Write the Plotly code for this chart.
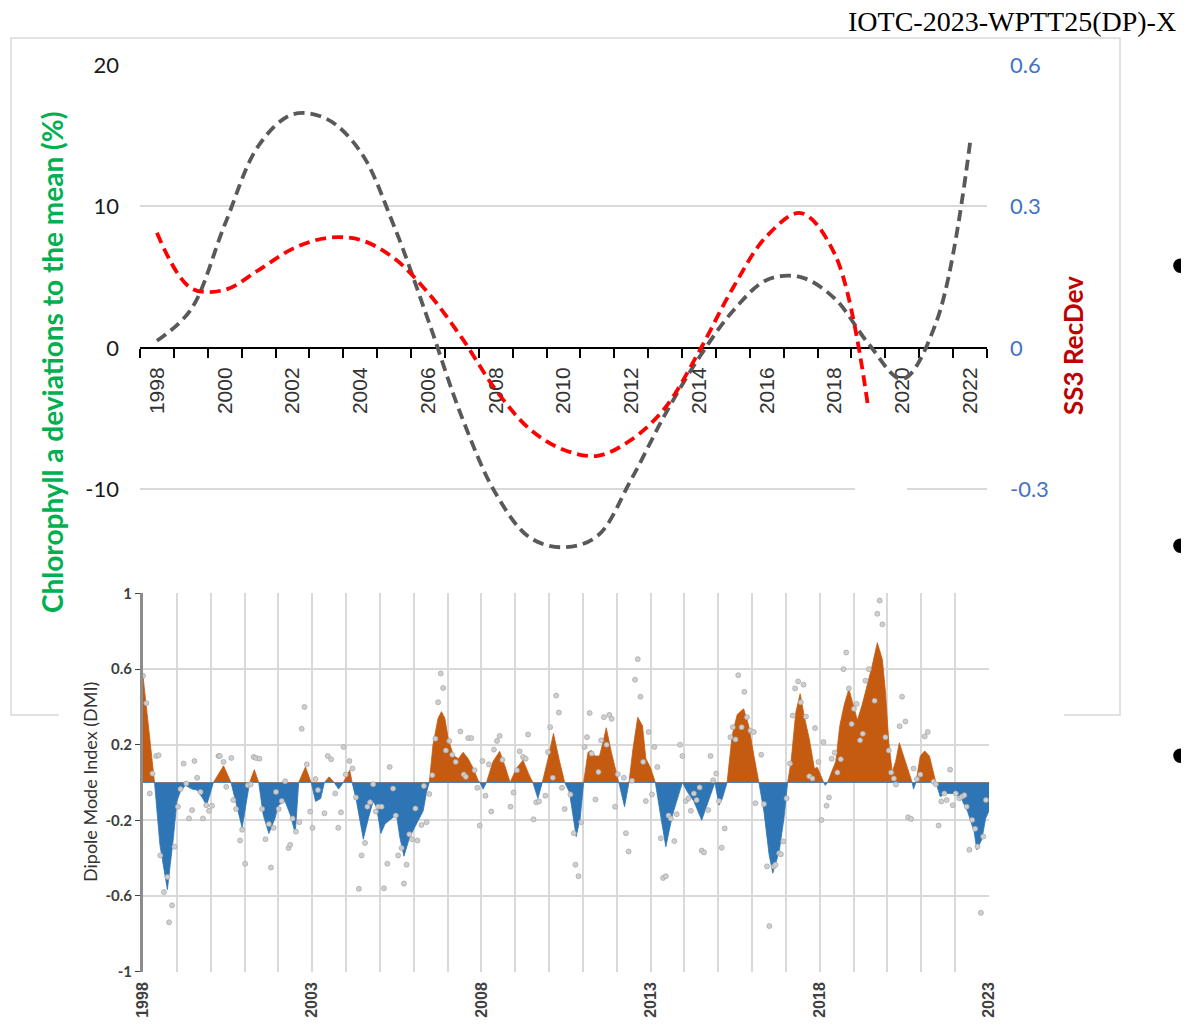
import plotly.graph_objects as go

# ---------------- Top chart data ----------------
chl_years = list(range(1998, 2023))
chl_dev = [0.5, 2.7, 8.7, 14.3, 16.5, 16.2, 13.9, 8.6, 2.0, -4.9, -10.3, -13.4, -14.1,
           -13.3, -9.3, -4.7, -0.7, 2.6, 4.8, 5.0, 3.5, 0.3, -2.2, 1.8, 14.5]
rec_years = list(range(1998, 2020))
rec_dev = [0.244, 0.127, 0.123, 0.165, 0.21, 0.233, 0.229, 0.19, 0.117, 0.021, -0.089,
           -0.172, -0.216, -0.229, -0.195, -0.127, -0.008, 0.127, 0.237, 0.286, 0.2, -0.13]
top_tick_years = list(range(1998, 2023, 2))
left_ticks = [-10, 0, 10, 20]
right_ticks = [-0.3, 0, 0.3, 0.6]
right_ticktext = ["-0.3", "0", "0.3", "0.6"]

# ---------------- DMI data ----------------
dmi_t = [1998.00, 1998.10, 1998.20, 1998.34, 1998.50, 1998.72, 1998.90, 1999.00, 1999.10, 1999.25,
         1999.45, 1999.60, 1999.75, 1999.88, 2000.00, 2000.08, 2000.38, 2000.60, 2000.93, 2001.15,
         2001.29, 2001.42, 2001.55, 2001.72, 2001.90, 2002.00, 2002.20, 2002.35, 2002.50, 2002.60,
         2002.80, 2002.97, 2003.10, 2003.25, 2003.36, 2003.50, 2003.65, 2003.78, 2003.92, 2004.05,
         2004.11, 2004.18, 2004.31, 2004.51, 2004.66, 2004.80, 2004.90, 2005.03, 2005.15, 2005.34,
         2005.49, 2005.59, 2005.71, 2005.88, 2006.08, 2006.28, 2006.38, 2006.46, 2006.57, 2006.72,
         2006.82, 2006.92, 2007.02, 2007.17, 2007.32, 2007.46, 2007.61, 2007.76, 2007.90, 2007.96,
         2008.05, 2008.15, 2008.34, 2008.54, 2008.69, 2008.85, 2009.03, 2009.23, 2009.41, 2009.52,
         2009.67, 2009.80, 2009.97, 2010.13, 2010.30, 2010.46, 2010.60, 2010.80, 2010.92, 2011.02,
         2011.15, 2011.25, 2011.35, 2011.49, 2011.59, 2011.69, 2011.84, 2011.98, 2012.06, 2012.23,
         2012.36, 2012.48, 2012.62, 2012.76, 2012.86, 2013.00, 2013.14, 2013.30, 2013.45, 2013.65,
         2013.94, 2014.09, 2014.28, 2014.51, 2014.73, 2014.90, 2015.02, 2015.12, 2015.26, 2015.41,
         2015.56, 2015.75, 2015.90, 2016.05, 2016.20, 2016.35, 2016.50, 2016.61, 2016.80, 2016.94,
         2017.05, 2017.15, 2017.29, 2017.42, 2017.54, 2017.69, 2017.84, 2017.93, 2018.08, 2018.16,
         2018.23, 2018.33, 2018.47, 2018.59, 2018.72, 2018.86, 2018.98, 2019.11, 2019.25, 2019.40,
         2019.55, 2019.70, 2019.85, 2019.94, 2020.04, 2020.14, 2020.24, 2020.35, 2020.48, 2020.63,
         2020.73, 2020.77, 2020.84, 2020.97, 2021.10, 2021.24, 2021.37, 2021.43, 2021.56, 2021.71,
         2021.98, 2022.18, 2022.37, 2022.56, 2022.64, 2022.79, 2022.90, 2023.00]
dmi_smooth = [0.565, 0.40, 0.22, 0.0, -0.33, -0.567, -0.29, -0.10, -0.05, -0.015,
              -0.035, -0.04, -0.08, -0.12, -0.05, 0.0, 0.088, 0.0, -0.24, 0.0,
              0.068, 0.0, -0.17, -0.27, -0.19, -0.12, -0.10, -0.17, -0.27, 0.0,
              0.082, 0.0, -0.10, -0.085, 0.0, 0.03, 0.0, -0.035, 0.0, 0.047,
              0.065, 0.0, -0.10, -0.30, -0.19, -0.10, -0.13, -0.27, -0.22, -0.19,
              -0.17, -0.29, -0.39, -0.29, -0.22, -0.15, -0.05, 0.0, 0.20, 0.34,
              0.375, 0.34, 0.23, 0.144, 0.126, 0.16, 0.126, 0.074, 0.012, 0.0,
              -0.035, 0.0, 0.11, 0.165, 0.09, 0.0, 0.074, 0.118, 0.04, 0.0,
              -0.085, 0.0, 0.126, 0.26, 0.12, 0.0, -0.05, -0.286, -0.19, 0.0,
              0.16, 0.17, 0.14, 0.14, 0.21, 0.29, 0.16, 0.056, 0.0, -0.128,
              0.0, 0.18, 0.345, 0.30, 0.126, 0.077, 0.0, -0.18, -0.34, -0.17,
              0.0, -0.05, -0.10, -0.20, -0.09, 0.0, -0.12, -0.085, 0.0, 0.25,
              0.36, 0.39, 0.30, 0.145, 0.0, -0.155, -0.38, -0.48, -0.365, -0.19,
              0.0, 0.11, 0.37, 0.47, 0.35, 0.23, 0.074, 0.08, 0.012, -0.015,
              0.0, 0.047, 0.11, 0.30, 0.41, 0.495, 0.41, 0.33, 0.41, 0.51,
              0.62, 0.74, 0.65, 0.48, 0.21, 0.056, 0.11, 0.21, 0.14, 0.056,
              0.0, -0.035, 0.0, 0.14, 0.167, 0.14, 0.04, 0.0, -0.075, -0.058,
              -0.058, -0.085, -0.155, -0.26, -0.356, -0.30, -0.19, -0.15]

dot_t = [1998.00, 1998.10, 1998.28, 1998.39, 1998.46, 1998.20, 1998.51, 1998.62, 1998.72, 1998.86,
         1998.77, 1998.93, 1999.03, 1999.11, 1999.20, 1999.28, 1999.36, 1999.45, 1999.52, 1999.60,
         1999.70, 1999.77, 1999.87, 1999.95, 2000.04, 2000.23, 2000.27, 2000.38, 2000.46, 2000.61,
         2000.67, 2000.75, 2000.87, 2000.93, 2001.02, 2001.10, 2001.18, 2001.27, 2001.34, 2001.44,
         2001.52, 2001.62, 2001.72, 2001.78, 2001.86, 2001.93, 2002.01, 2002.10, 2002.20, 2002.30,
         2002.35, 2002.42, 2002.52, 2002.62, 2002.69, 2002.77, 2002.84, 2002.94, 2003.01, 2003.10,
         2003.17, 2003.36, 2003.46, 2003.56, 2003.68, 2003.77, 2003.85, 2003.93, 2003.99, 2004.10,
         2004.19, 2004.29, 2004.46, 2004.38, 2004.56, 2004.63, 2004.71, 2004.80, 2004.88, 2004.95,
         2005.05, 2005.12, 2005.22, 2005.29, 2005.39, 2005.47, 2005.54, 2005.64, 2005.71, 2005.79,
         2005.87, 2005.95, 2006.05, 2006.11, 2006.23, 2006.30, 2006.38, 2006.46, 2006.55, 2006.64,
         2006.72, 2006.80, 2006.87, 2006.95, 2007.05, 2007.14, 2007.24, 2007.38, 2007.48, 2007.54,
         2007.61, 2007.70, 2007.80, 2007.88, 2007.95, 2008.03, 2008.12, 2008.22, 2008.29, 2008.37,
         2008.46, 2008.54, 2008.62, 2008.86, 2008.95, 2009.05, 2009.13, 2009.23, 2009.31, 2009.38,
         2009.54, 2009.62, 2009.70, 2009.89, 2009.97, 2010.03, 2010.11, 2010.21, 2010.29, 2010.38,
         2010.46, 2010.63, 2010.73, 2010.78, 2010.87, 2010.95, 2011.05, 2011.12, 2011.20, 2011.26,
         2011.37, 2011.46, 2011.54, 2011.62, 2011.70, 2011.78, 2011.85, 2011.95, 2012.03, 2012.21,
         2012.27, 2012.35, 2012.45, 2012.54, 2012.62, 2012.70, 2012.78, 2012.86, 2012.94, 2013.04,
         2013.11, 2013.20, 2013.30, 2013.37, 2013.45, 2013.53, 2013.60, 2013.70, 2013.77, 2013.87,
         2013.94, 2014.04, 2014.12, 2014.19, 2014.28, 2014.36, 2014.45, 2014.51, 2014.58, 2014.70,
         2014.77, 2014.85, 2014.94, 2015.02, 2015.10, 2015.19, 2015.36, 2015.43, 2015.51, 2015.59,
         2015.69, 2015.77, 2015.85, 2015.95, 2016.05, 2016.10, 2016.27, 2016.35, 2016.44, 2016.51,
         2016.64, 2016.69, 2016.80, 2016.85, 2016.92, 2017.02, 2017.12, 2017.20, 2017.27, 2017.36,
         2017.44, 2017.52, 2017.59, 2017.69, 2017.78, 2017.86, 2017.96, 2018.05, 2018.11, 2018.20,
         2018.27, 2018.35, 2018.44, 2018.52, 2018.62, 2018.70, 2018.78, 2018.86, 2018.94, 2019.01,
         2019.09, 2019.19, 2019.27, 2019.35, 2019.45, 2019.62, 2019.70, 2019.77, 2019.85, 2019.94,
         2020.04, 2020.11, 2020.19, 2020.25, 2020.36, 2020.43, 2020.53, 2020.61, 2020.70, 2020.77,
         2020.87, 2020.97, 2021.10, 2021.19, 2021.36, 2021.43, 2021.51, 2021.59, 2021.68, 2021.75,
         2021.85, 2021.93, 2022.02, 2022.12, 2022.20, 2022.27, 2022.34, 2022.42, 2022.50, 2022.59,
         2022.66, 2022.76, 2022.83, 2022.91]
dot_v = [0.565, 0.42, 0.047, 0.14, 0.144, -0.058, -0.386, -0.58, -0.50, -0.65,
         -0.74, -0.34, -0.128, -0.035, 0.10, -0.005, -0.19, -0.146, 0.114, 0.025,
         -0.05, -0.19, -0.12, -0.15, -0.123, 0.14, 0.14, 0.109, -0.023, 0.13,
         -0.093, -0.14, -0.307, -0.25, -0.43, -0.014, -0.01, 0.135, 0.13, 0.126,
         -0.14, -0.30, -0.22, -0.45, -0.24, -0.05, -0.14, -0.098, 0.007, -0.347,
         -0.33, -0.19, -0.26, -0.21, 0.284, 0.40, 0.096, -0.154, -0.24, 0.018,
         -0.04, -0.163, 0.14, 0.123, -0.058, -0.24, -0.158, 0.188, 0.042, 0.114,
         0.074, -0.079, -0.386, -0.563, -0.32, -0.128, -0.105, -0.009, -0.154, -0.128,
         -0.128, -0.56, -0.43, 0.082, -0.032, -0.175, -0.386, -0.347, -0.535, -0.435,
         -0.274, -0.30, -0.137, -0.307, -0.225, -0.018, -0.21, -0.061, 0.039, 0.232,
         0.425, 0.577, 0.50, 0.17, 0.22, 0.147, 0.109, 0.27, 0.042, 0.03,
         0.235, 0.235, 0.065, -0.028, -0.228, 0.114, -0.07, 0.096, -0.154, 0.174,
         0.22, 0.246, 0.12, -0.128, -0.053, 0.065, 0.165, 0.135, 0.126, 0.254,
         -0.195, -0.105, -0.10, -0.07, 0.161, 0.293, 0.025, 0.46, 0.37, -0.028,
         -0.14, -0.063, -0.268, -0.435, -0.496, -0.21, 0.188, 0.24, 0.368, 0.153,
         -0.09, 0.056, 0.223, 0.346, 0.20, 0.358, 0.337, -0.128, 0.044, 0.025,
         -0.268, -0.365, 0.009, 0.544, 0.653, 0.454, 0.109, -0.098, 0.267, -0.063,
         0.188, 0.082, -0.295, -0.505, -0.496, -0.175, -0.19, -0.31, -0.168, 0.20,
         0.14, -0.098, -0.084, -0.15, -0.058, -0.093, -0.026, -0.36, -0.37, -0.146,
         0.14, 0.012, 0.047, -0.098, -0.345, -0.243, 0.24, 0.293, 0.228, 0.568,
         0.293, 0.48, 0.346, 0.275, 0.267, -0.11, 0.147, -0.114, -0.444, -0.76,
         -0.444, -0.435, -0.374, -0.38, -0.312, -0.084, 0.10, 0.354, 0.498, 0.535,
         0.425, 0.518, 0.349, 0.033, 0.021, 0.288, 0.109, -0.198, 0.214, -0.123,
         -0.079, 0.126, 0.158, 0.053, 0.123, 0.60, 0.688, 0.498, 0.31, 0.39,
         0.416, 0.223, 0.258, 0.539, 0.60, 0.433, 0.893, 0.963, 0.837, 0.24,
         0.17, 0.053, 0.021, -0.011, 0.298, 0.454, 0.323, -0.184, -0.193, 0.074,
         0.018, 0.042, 0.244, 0.267, 0.004, -0.009, -0.228, -0.10, -0.058, -0.093,
         0.068, -0.12, -0.058, -0.084, -0.075, -0.067, -0.128, -0.356, -0.198, -0.245,
         -0.339, -0.69, -0.286, -0.093]
dmi_ticks = [-1, -0.6, -0.2, 0.2, 0.6, 1]
dmi_ticktext = ["-1", "-0.6", "-0.2", "0.2", "0.6", "1"]
dmi_year_ticks = [1998, 2003, 2008, 2013, 2018, 2023]

W, H = 1189, 1025
OFF = 8  # page body margin offset compensation
def px(x):
    return (x - OFF) / W
def py(y):
    return 1 - (y - OFF) / H

# split smoothed DMI into positive / negative parts with zero crossings
pos_t, pos_v, neg_t, neg_v = [], [], [], []
for i in range(len(dmi_t)):
    if i > 0:
        a, b = dmi_smooth[i - 1], dmi_smooth[i]
        if a * b < 0:
            tc = dmi_t[i - 1] + (dmi_t[i] - dmi_t[i - 1]) * a / (a - b)
            pos_t.append(tc); pos_v.append(0)
            neg_t.append(tc); neg_v.append(0)
    pos_t.append(dmi_t[i]); pos_v.append(max(dmi_smooth[i], 0))
    neg_t.append(dmi_t[i]); neg_v.append(min(dmi_smooth[i], 0))

fig = go.Figure()

# top chart lines
fig.add_trace(go.Scatter(x=chl_years, y=chl_dev, mode="lines", xaxis="x", yaxis="y",
                         line=dict(color="#595959", width=3.8, dash="11px,6px", shape="spline", smoothing=1.0),
                         showlegend=False, hoverinfo="skip"))
fig.add_trace(go.Scatter(x=rec_years, y=rec_dev, mode="lines", xaxis="x", yaxis="y3",
                         line=dict(color="#FF0000", width=3.8, dash="11px,6px", shape="spline", smoothing=1.0),
                         showlegend=False, hoverinfo="skip"))

# DMI areas
fig.add_trace(go.Scatter(x=pos_t, y=pos_v, mode="lines", fill="tozeroy", xaxis="x2", yaxis="y2",
                         line=dict(color="#C55A11", width=0.8), fillcolor="#C55A11",
                         showlegend=False, hoverinfo="skip"))
fig.add_trace(go.Scatter(x=neg_t, y=neg_v, mode="lines", fill="tozeroy", xaxis="x2", yaxis="y2",
                         line=dict(color="#2E75B6", width=0.8), fillcolor="#2E75B6",
                         showlegend=False, hoverinfo="skip"))
fig.add_trace(go.Scatter(x=dot_t, y=dot_v, mode="markers", xaxis="x2", yaxis="y2",
                         marker=dict(color="#CFCFCF", size=5, line=dict(color="#A5A5A5", width=0.7)),
                         showlegend=False, hoverinfo="skip"))

def ann(text, x, y, size, color, family="Lato", angle=0, xanchor="center"):
    return dict(text=text, x=px(x), y=py(y), xref="paper", yref="paper", showarrow=False,
                textangle=angle, xanchor=xanchor, yanchor="middle",
                font=dict(family=family, size=size, color=color))

fig.update_layout(
    width=W, height=H,
    margin=dict(l=0, r=0, t=0, b=0, pad=0, autoexpand=False),
    paper_bgcolor="white", plot_bgcolor="rgba(0,0,0,0)",
    xaxis=dict(domain=[px(140), px(987)], range=[1997.5, 2022.5], anchor="free", position=py(348),
               tickmode="array", tickvals=top_tick_years, ticktext=[str(y) for y in top_tick_years],
               tickangle=-90, ticks="", showgrid=False, zeroline=False, automargin=False,
               showline=True, linecolor="black", linewidth=2, layer="below traces",
               ticklabelstandoff=10,
               tickfont=dict(family="Liberation Sans", size=21, color="#333333"),
               minor=dict(tickmode="array", tickvals=[1997.5 + k for k in range(26)],
                          ticks="outside", ticklen=9, tickwidth=1.5, tickcolor="black", showgrid=False)),
    yaxis=dict(domain=[py(560), py(65)], range=[-15, 20], anchor="x", automargin=False,
               tickmode="array", tickvals=left_ticks, ticktext=[str(v) for v in left_ticks],
               showgrid=True, gridcolor="#D9D9D9", gridwidth=1.5, zeroline=False, showline=False,
               ticks="", ticklabelstandoff=20,
               tickfont=dict(family="Lato", size=22, color="#1a1a1a")),
    yaxis3=dict(overlaying="y", side="right", anchor="x", range=[-0.45, 0.6], automargin=False,
                tickmode="array", tickvals=right_ticks, ticktext=right_ticktext,
                showgrid=False, zeroline=False, showline=False, ticks="", ticklabelstandoff=22,
                tickfont=dict(family="Lato", size=22, color="#4472C4")),
    xaxis2=dict(domain=[px(143), px(989)], range=[1998, 2023], anchor="y2", automargin=False,
                tickmode="array", tickvals=dmi_year_ticks, ticktext=[str(y) for y in dmi_year_ticks],
                tickangle=-90, ticks="", showgrid=True, gridcolor="#D9D9D9", gridwidth=1.5,
                zeroline=False, showline=False, ticklabelstandoff=6,
                tickfont=dict(family="Liberation Sans", size=16, color="#404040", weight="bold"),
                minor=dict(dtick=1, tick0=1998, showgrid=True, gridcolor="#D9D9D9", gridwidth=1.5)),
    yaxis2=dict(domain=[py(972), py(593)], range=[-1.003, 1.003], anchor="x2", automargin=False,
                tickmode="array", tickvals=dmi_ticks, ticktext=dmi_ticktext,
                showgrid=True, gridcolor="#D9D9D9", gridwidth=1.5, zeroline=False,
                showline=True, linecolor="#8C8C8C", linewidth=3,
                ticks="outside", ticklen=5, tickcolor="#404040", tickwidth=1.2,
                tickfont=dict(family="Lato", size=15, color="#404040", weight="bold")),
    shapes=[
        dict(type="rect", xref="paper", yref="paper", x0=px(11), x1=px(1120), y0=py(715), y1=py(38),
             line=dict(color="#D9D9D9", width=1.5), fillcolor="rgba(0,0,0,0)", layer="below"),
        dict(type="rect", xref="paper", yref="paper", x0=px(59), x1=px(1064), y0=py(1040), y1=py(575),
             line=dict(width=0), fillcolor="white", layer="below"),
        dict(type="rect", xref="paper", yref="paper", x0=px(855), x1=px(907), y0=py(493), y1=py(485),
             line=dict(width=0), fillcolor="white", layer="above"),
    ],
    annotations=[
        ann("<b>Chlorophyll a deviations to the mean (%)</b>", 52, 363, 28, "#00B050", angle=-90),
        ann("<b>SS3 RecDev</b>", 1073, 346, 26, "#C00000", angle=-90),
        ann("Dipole Mode Index (DMI)", 90, 782, 18, "#333333", angle=-90),
        ann("IOTC-2023-WPTT25(DP)-X", 846, 21, 28, "black", family="Liberation Serif", xanchor="left"),
        ann("•", 1180, 265, 54, "black", family="Liberation Sans"),
        ann("•", 1180, 545, 54, "black", family="Liberation Sans"),
        ann("•", 1180, 755, 54, "black", family="Liberation Sans"),
    ],
)

fig.write_html("out.html")
